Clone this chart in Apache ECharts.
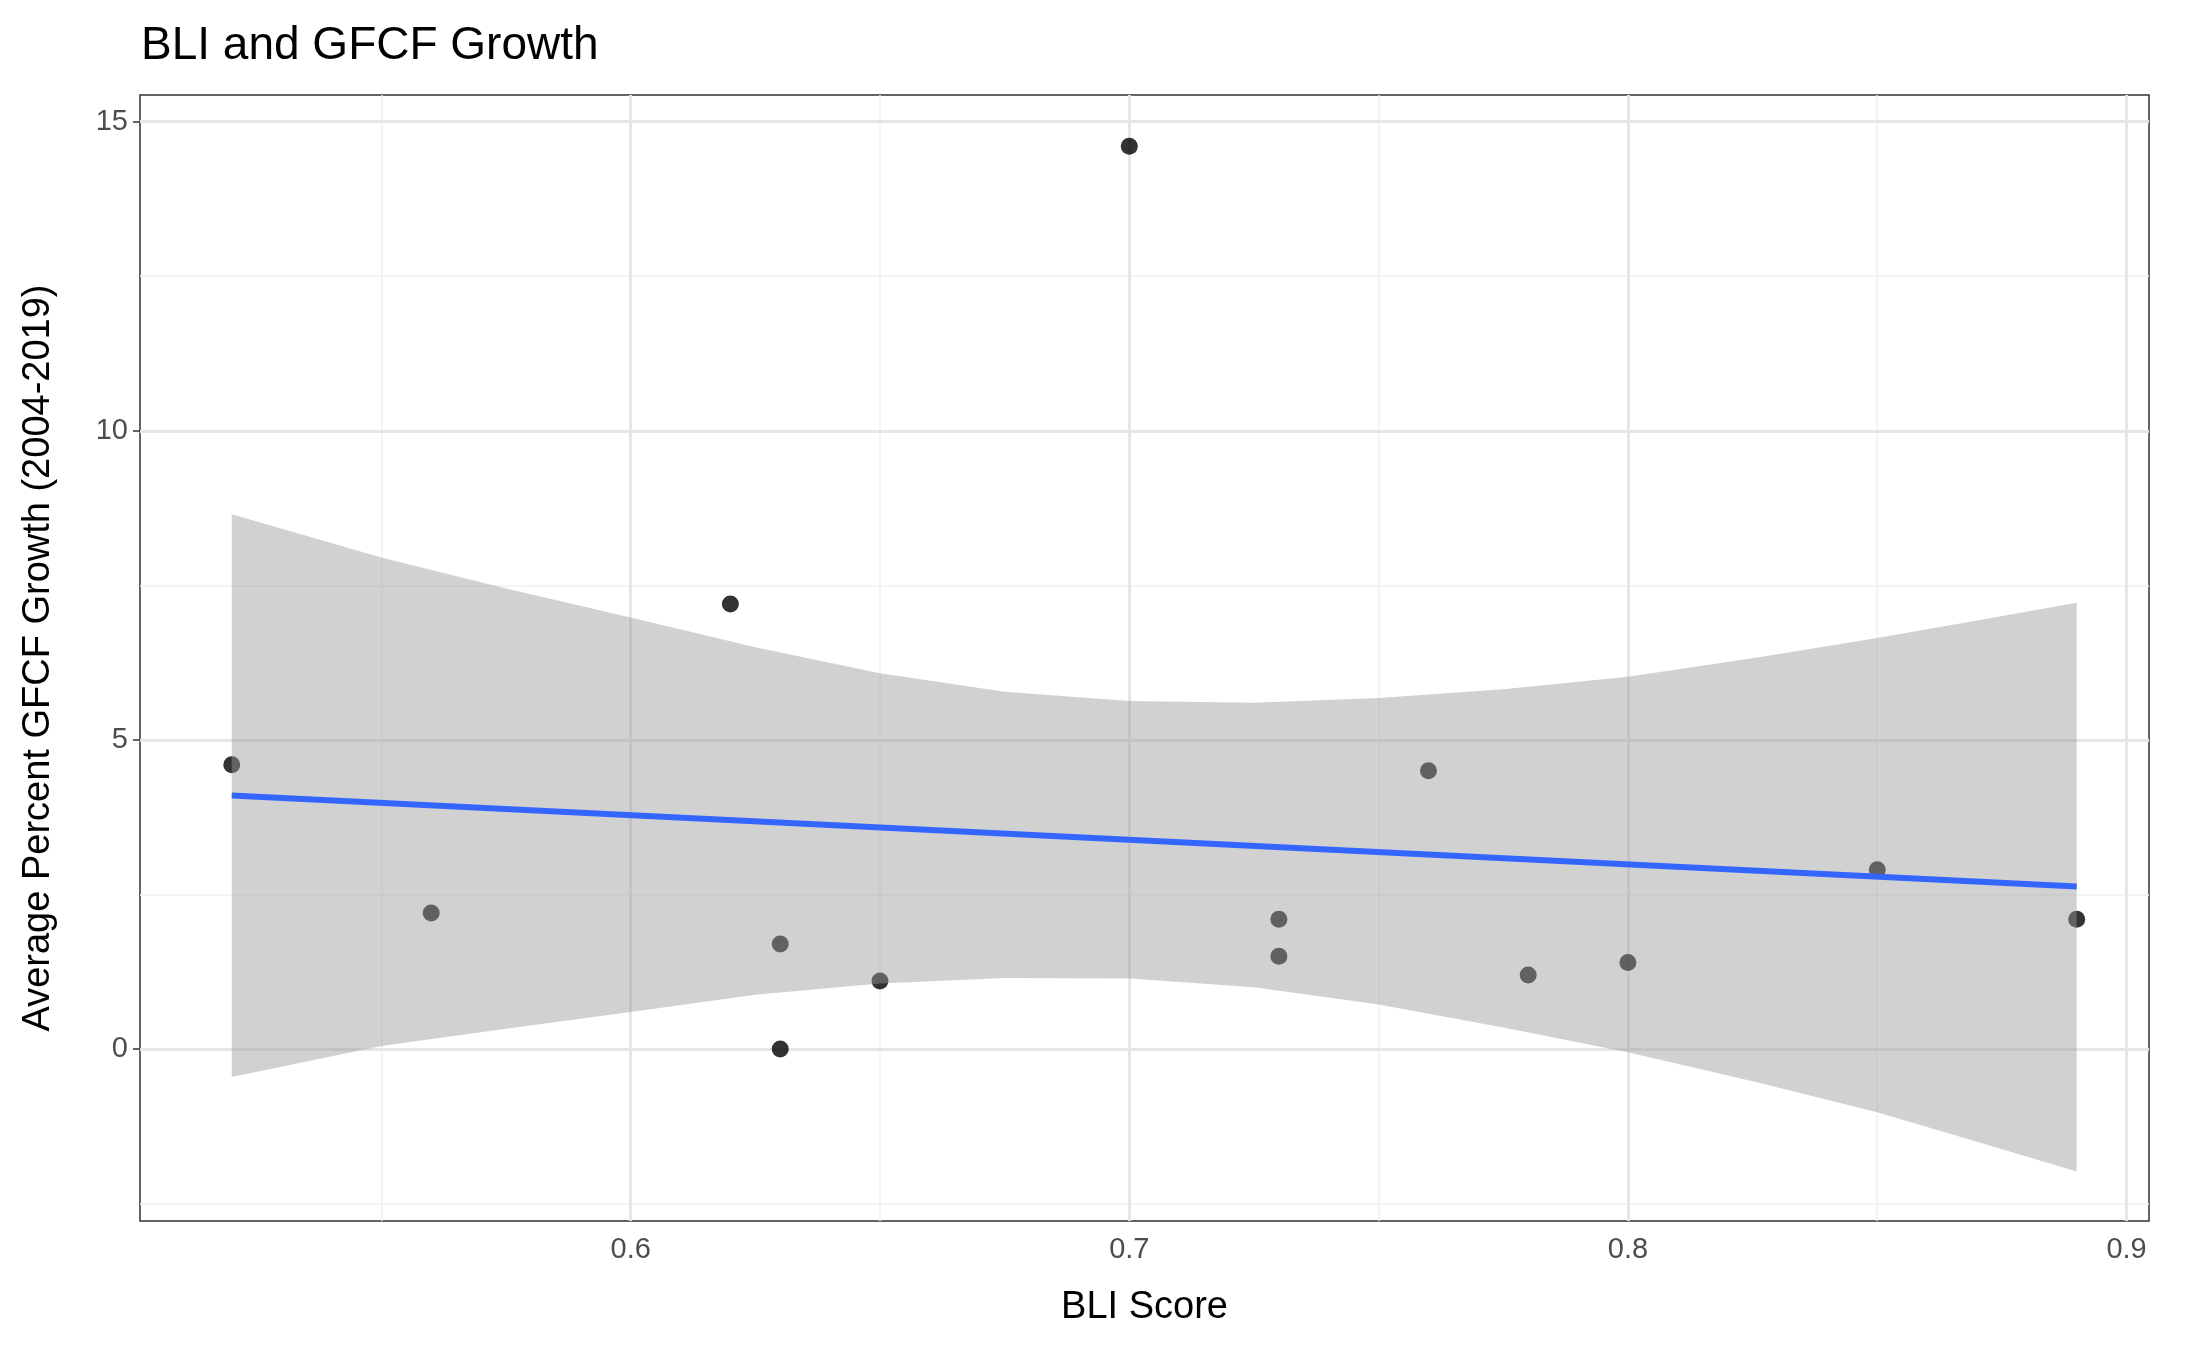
<!DOCTYPE html>
<html>
<head>
<meta charset="utf-8">
<script src="https://cdn.jsdelivr.net/npm/echarts@6/dist/echarts.min.js"></script>
<style>html,body{margin:0;padding:0;background:#fff}#chart{width:2187px;height:1351px}</style>
</head>
<body>
<div id="chart"></div>
<script>
// data
var bliScore = [0.52, 0.56, 0.62, 0.63, 0.63, 0.65, 0.70, 0.73, 0.73, 0.76, 0.78, 0.80, 0.85, 0.89];
var gfcfGrowth = [4.6, 2.2, 7.2, 1.7, 0.0, 1.1, 14.6, 2.1, 1.5, 4.5, 1.2, 1.4, 2.9, 2.1];
var fitX = [0.52, 0.89];
var fitY = [4.1, 2.63];
var bandX = [0.52, 0.55, 0.575, 0.6, 0.625, 0.65, 0.675, 0.7, 0.725, 0.75, 0.775, 0.8, 0.825, 0.85, 0.87, 0.89];
var bandUpper = [8.65, 7.95, 7.45, 6.98, 6.5, 6.08, 5.78, 5.63, 5.6, 5.68, 5.82, 6.02, 6.32, 6.65, 6.93, 7.22];
var bandLower = [-0.45, 0.05, 0.33, 0.6, 0.88, 1.06, 1.15, 1.14, 1.0, 0.72, 0.35, -0.05, -0.52, -1.02, -1.5, -1.98];
var xMajor = [0.6, 0.7, 0.8, 0.9];
var xMinor = [0.55, 0.65, 0.75, 0.85];
var yMajor = [0, 5, 10, 15];
var yMinor = [-2.5, 2.5, 7.5, 12.5];

var chart = echarts.init(document.getElementById('chart'));

var gridLines = [];
xMinor.forEach(function(v){ gridLines.push({xAxis: v, lineStyle: {color: '#f0f0f0', width: 1.5, type: 'solid'}}); });
yMinor.forEach(function(v){ gridLines.push({yAxis: v, lineStyle: {color: '#f0f0f0', width: 1.5, type: 'solid'}}); });
xMajor.forEach(function(v){ gridLines.push({xAxis: v, lineStyle: {color: '#e6e6e6', width: 3, type: 'solid'}}); });
yMajor.forEach(function(v){ gridLines.push({yAxis: v, lineStyle: {color: '#e6e6e6', width: 3, type: 'solid'}}); });

var pts = [];
for (var i = 0; i < bliScore.length; i++) pts.push([bliScore[i], gfcfGrowth[i]]);

var option = {
    backgroundColor: '#fff',
    animation: false,
    title: {
        text: 'BLI and GFCF Growth', left: 136, top: 18,
        textStyle: {fontFamily: 'Liberation Sans', fontSize: 46, fontWeight: 'normal', color: '#000'}
    },
    grid: {left: 140, right: 38, top: 95, bottom: 130, show: true, borderColor: '#333', borderWidth: 1.5},
    xAxis: {
        type: 'value', min: 0.5016, max: 0.9045,
        name: 'BLI Score', nameLocation: 'middle', nameGap: 68,
        nameTextStyle: {fontFamily: 'Liberation Sans', fontSize: 38, color: '#000'},
        axisLine: {show: false},
        axisTick: {show: true, customValues: xMajor, length: 7, lineStyle: {color: '#333', width: 1.5}},
        axisLabel: {customValues: xMajor, fontFamily: 'Liberation Sans', fontSize: 29, color: '#4d4d4d', margin: 14},
        splitLine: {show: false}
    },
    yAxis: {
        type: 'value', min: -2.78, max: 15.43,
        name: 'Average Percent GFCF Growth (2004-2019)', nameLocation: 'middle', nameGap: 82,
        nameTextStyle: {fontFamily: 'Liberation Sans', fontSize: 38, color: '#000'},
        axisLine: {show: false},
        axisTick: {show: true, customValues: yMajor, length: 7, lineStyle: {color: '#333', width: 1.5}},
        axisLabel: {customValues: yMajor, fontFamily: 'Liberation Sans', fontSize: 29, color: '#4d4d4d', margin: 12},
        splitLine: {show: false}
    },
    series: [
        {
            type: 'scatter', data: pts, symbolSize: 17, z: 3,
            itemStyle: {color: '#000'},
            markLine: {silent: true, symbol: 'none', label: {show: false}, data: gridLines, z: 1}
        },
        {
            type: 'custom', z: 4, data: [0],
            renderItem: function(params, api){
                var poly = [];
                for (var k = 0; k < bandX.length; k++) poly.push(api.coord([bandX[k], bandUpper[k]]));
                for (var k = bandX.length - 1; k >= 0; k--) poly.push(api.coord([bandX[k], bandLower[k]]));
                return {type: 'polygon', shape: {points: poly}, style: {fill: 'rgba(153,153,153,0.45)'}};
            }
        },
        {
            type: 'line', z: 5, symbol: 'none',
            data: [[fitX[0], fitY[0]], [fitX[1], fitY[1]]],
            lineStyle: {color: '#3366FF', width: 6}
        }
    ]
};
chart.setOption(option);
</script>
</body>
</html>
